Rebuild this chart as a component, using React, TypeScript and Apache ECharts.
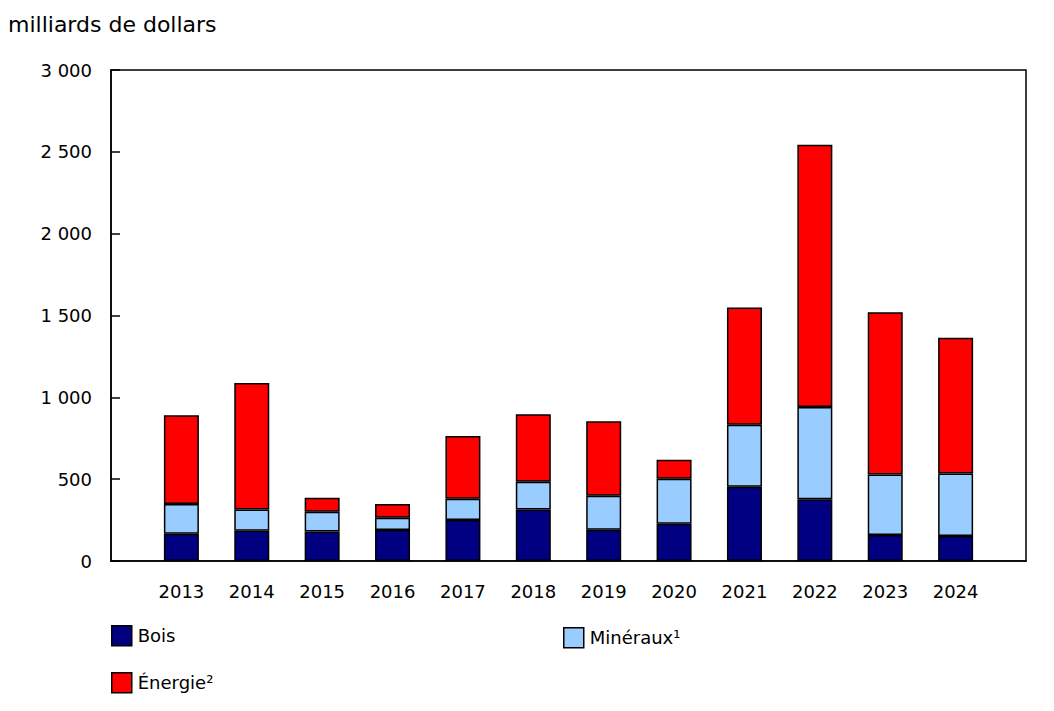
import React, { useEffect, useRef } from "react";
import * as echarts from "echarts";

const years = ["2013", "2014", "2015", "2016", "2017", "2018", "2019", "2020", "2021", "2022", "2023", "2024"];
const bois = [166, 185, 180, 189, 250, 315, 191, 228, 453, 378, 159, 152];
const mineraux = [182, 130, 121, 75, 130, 169, 207, 274, 380, 563, 370, 383];
const energie = [542, 772, 85, 84, 384, 412, 456, 116, 716, 1602, 991, 829];
const yTicks = [0, 500, 1000, 1500, 2000, 2500, 3000];

const FONT = 'Verdana, "DejaVu Sans", sans-serif';

function fmt(v: number): string {
  return String(v).replace(/\B(?=(\d{3})+(?!\d))/g, " ");
}

export default function App() {
  const ref = useRef<HTMLDivElement>(null);
  useEffect(() => {
    if (!ref.current) return;
    const chart = echarts.init(ref.current, null, { renderer: "svg" });
    const cats = ["", ...years, ""];
    const pad = (arr: number[]) => [null, ...arr, null];
    const mkSeries = (name: string, data: number[], color: string) => ({
      name,
      type: "bar",
      stack: "total",
      barWidth: 35,
      data: pad(data),
      itemStyle: { color, borderColor: "#000", borderWidth: 1.5 },
    });
    const legendBase = {
      itemWidth: 20,
      itemHeight: 20,
      itemGap: 0,
      padding: 0,
      icon: "rect",
      textStyle: { fontFamily: FONT, fontSize: 18, color: "#000", padding: [0, 0, 0, 1] },
      itemStyle: { borderColor: "#000", borderWidth: 1.5 },
      selectedMode: false,
    };
    chart.setOption({
      animation: false,
      backgroundColor: "#fff",
      title: {
        text: "milliards de dollars",
        left: 3,
        top: 8,
        textStyle: { fontFamily: FONT, fontSize: 22, fontWeight: "normal", color: "#000" },
      },
      legend: [
        { ...legendBase, data: ["Bois"], left: 111, top: 625 },
        { ...legendBase, data: ["Minéraux¹"], left: 563, top: 627 },
        { ...legendBase, data: ["Énergie²"], left: 111, top: 672 },
      ],
      grid: {
        left: 111,
        right: 28,
        top: 70,
        bottom: 150,
        show: true,
        borderColor: "#000",
        borderWidth: 1.5,
        containLabel: false,
      },
      xAxis: {
        type: "category",
        data: cats,
        boundaryGap: false,
        axisLine: { lineStyle: { color: "#000", width: 1.5 } },
        axisTick: { show: false },
        axisLabel: { interval: 0, fontFamily: FONT, fontSize: 18, color: "#000", margin: 21 },
        splitLine: { show: false },
      },
      yAxis: {
        type: "value",
        min: 0,
        max: 3000,
        interval: 500,
        axisLine: { show: true, lineStyle: { color: "#000", width: 1.5 } },
        axisTick: { show: true, inside: true, length: 9, lineStyle: { color: "#000", width: 1.5 } },
        axisLabel: {
          fontFamily: FONT,
          fontSize: 18,
          color: "#000",
          margin: 19,
          formatter: (v: number) => (yTicks.includes(v) ? fmt(v) : ""),
        },
        splitLine: { show: false },
      },
      series: [
        mkSeries("Bois", bois, "#000080"),
        mkSeries("Minéraux¹", mineraux, "#99CCFF"),
        mkSeries("Énergie²", energie, "#FF0000"),
      ],
    });
    return () => chart.dispose();
  }, []);
  return (
    <div
      ref={ref}
      style={{ position: "fixed", left: 0, top: 0, width: 1054, height: 711, background: "#fff" }}
    />
  );
}
